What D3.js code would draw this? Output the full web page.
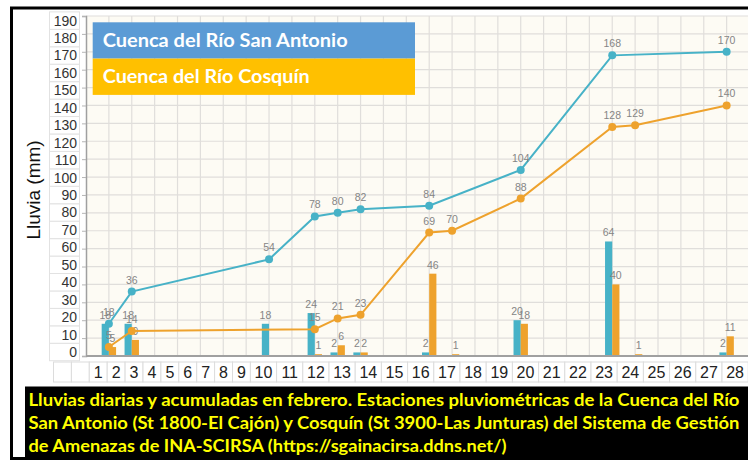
<!DOCTYPE html>
<html>
<head>
<meta charset="utf-8">
<script src="https://cdn.jsdelivr.net/npm/d3@7"></script>
<style>
  html, body { margin: 0; padding: 0; background: #fff; }
  svg { display: block; }
</style>
</head>
<body>
<div id="chart"></div>
<script>
// columns of the underlying chart grid where rain was recorded
const cols = [1, 2, 8, 10, 11, 12, 15, 16, 19, 23, 24, 28];
const sanAntonioDaily = [18, 18, 18, 24, 2, 2, 2, 0, 20, 64, 0, 2];
const cosquinDaily = [5, 9, 0, 1, 6, 2, 46, 1, 18, 40, 1, 11];
const sanAntonioAcum = [18, 36, 54, 78, 80, 82, 84, null, 104, 168, null, 170];
const cosquinAcum = [5, 14, null, 15, 21, 23, 69, 70, 88, 128, 129, 140];

// pasted label row under the chart
const dayLabels = ["", "", 1, 2, 3, 4, 5, 6, 7, 8, 9, 10, 11, 12, 13, 14, 15, 16, 17, 18, 19, 20, 21, 22, 23, 24, 25, 26, 27, 28];
const yTicks = d3.range(0, 191, 10);

const legendLabels = ["Cuenca del Río San Antonio", "Cuenca del Río Cosquín"];
const captionLines = [
  "Lluvias diarias y acumuladas en febrero. Estaciones pluviométricas de la Cuenca del Río",
  "San Antonio (St 1800-El Cajón) y Cosquín (St 3900-Las Junturas) del Sistema de Gestión",
  "de Amenazas de INA-SCIRSA (https://sgainacirsa.ddns.net/)"
];

function draw() {
  const width = 748, height = 462;
  const blue = "#47b2c7", orange = "#eea22d";

  const svg = d3.select("#chart").append("svg")
    .attr("width", width)
    .attr("height", height);

  // outer frame
  svg.append("rect").attr("x", 0).attr("y", 0).attr("width", width).attr("height", height).attr("fill", "#fff");
  svg.append("path")
    .attr("d", `M${width},8 H11.5 V458.5 H${width}`)
    .attr("fill", "none").attr("stroke", "#000").attr("stroke-width", 3);

  // scales of the plot
  const plot = { left: 86, right: width, top: 16, bottom: 356 };
  const x = d3.scaleLinear().domain([0, 29]).range([plot.left, plot.left + 29 * 22.88]);
  const y = d3.scaleLinear().domain([0, 190]).range([plot.bottom, plot.top]);
  // the y label table is slightly offset from the plot grid
  const yLab = d3.scaleLinear().domain([0, 190]).range([352, 20.6]);

  svg.append("clipPath").attr("id", "clip")
    .append("rect").attr("x", plot.left).attr("y", plot.top - 6)
    .attr("width", plot.right - plot.left).attr("height", plot.bottom - plot.top + 6);

  svg.append("rect")
    .attr("x", plot.left).attr("y", plot.top)
    .attr("width", plot.right - plot.left).attr("height", plot.bottom - plot.top)
    .attr("fill", "#fdfbf4");

  const g = svg.append("g").attr("clip-path", "url(#clip)");

  // grid
  g.append("g").selectAll("line").data(d3.range(0, 30))
    .join("line")
    .attr("x1", d => x(d)).attr("x2", d => x(d))
    .attr("y1", plot.top).attr("y2", plot.bottom)
    .attr("stroke", "#e0dedb").attr("stroke-width", 1.2);
  g.append("g").selectAll("line").data(yTicks)
    .join("line")
    .attr("x1", plot.left).attr("x2", plot.right)
    .attr("y1", d => y(d)).attr("y2", d => y(d))
    .attr("stroke", "#e0dedb").attr("stroke-width", 1.2);

  // y axis ticks (labels live in the table on the left)
  const yAxis = svg.append("g")
    .attr("transform", `translate(${plot.left},0)`)
    .call(d3.axisLeft(y).tickValues(yTicks).tickSize(4).tickFormat(""));
  yAxis.selectAll("line").attr("stroke", "#b5b5b5");
  yAxis.select(".domain").attr("stroke", "#a0a0a0").attr("stroke-width", 1.5);

  svg.append("line")
    .attr("x1", plot.left).attr("x2", plot.right)
    .attr("y1", plot.bottom).attr("y2", plot.bottom)
    .attr("stroke", "#a0a0a0").attr("stroke-width", 2);

  // y label table
  const cell = 17.42;
  const yl = svg.append("g");
  yl.selectAll("rect").data(yTicks).join("rect")
    .attr("x", 49.5).attr("y", d => yLab(d) - cell / 2)
    .attr("width", 30).attr("height", cell)
    .attr("fill", "#fff").attr("stroke", "#e2e2e2");
  yl.selectAll("text").data(yTicks).join("text")
    .attr("x", 77).attr("y", d => yLab(d) + 5)
    .attr("text-anchor", "end")
    .attr("font-family", "Liberation Sans, Arial, sans-serif")
    .attr("font-size", 14)
    .attr("fill", "#333")
    .text(d => d);

  // y title
  svg.append("text")
    .attr("transform", "translate(40,190) rotate(-90)")
    .attr("text-anchor", "middle")
    .attr("font-family", "Liberation Sans, Arial, sans-serif")
    .attr("font-size", 19)
    .attr("fill", "#111")
    .text("Lluvia (mm)");

  // bars
  const barW = 7.2;
  const rows = cols.map((c, i) => ({ c, sa: sanAntonioDaily[i], co: cosquinDaily[i], saA: sanAntonioAcum[i], coA: cosquinAcum[i] }));

  g.append("g").selectAll("rect").data(rows.filter(d => d.sa > 0)).join("rect")
    .attr("x", d => x(d.c) - barW).attr("y", d => y(d.sa))
    .attr("width", barW).attr("height", d => y(0) - y(d.sa))
    .attr("fill", blue);
  g.append("g").selectAll("rect").data(rows.filter(d => d.co > 0)).join("rect")
    .attr("x", d => x(d.c)).attr("y", d => y(d.co))
    .attr("width", barW).attr("height", d => y(0) - y(d.co))
    .attr("fill", orange);

  const labelFont = "Liberation Sans, Arial, sans-serif";
  const labelColor = "#858585";

  g.append("g").selectAll("text").data(rows.filter(d => d.sa > 0)).join("text")
    .attr("x", d => x(d.c) - barW / 2).attr("y", d => y(d.sa) - 5)
    .attr("text-anchor", "middle").attr("font-family", labelFont).attr("font-size", 10.5)
    .attr("fill", labelColor).text(d => d.sa);
  g.append("g").selectAll("text").data(rows.filter(d => d.co > 0)).join("text")
    .attr("x", d => x(d.c) + barW / 2).attr("y", d => y(d.co) - 5)
    .attr("text-anchor", "middle").attr("font-family", labelFont).attr("font-size", 10.5)
    .attr("fill", labelColor).text(d => d.co);

  // accumulated lines
  const series = [
    { key: "saA", color: blue },
    { key: "coA", color: orange }
  ];
  const line = d3.line().x(d => x(d.c));
  series.forEach(s => {
    const pts = rows.filter(d => d[s.key] != null);
    g.append("path").datum(pts)
      .attr("d", line.y(d => y(d[s.key])))
      .attr("fill", "none").attr("stroke", s.color).attr("stroke-width", 2);
    g.append("g").selectAll("circle").data(pts).join("circle")
      .attr("cx", d => x(d.c)).attr("cy", d => y(d[s.key])).attr("r", 4)
      .attr("fill", s.color);
    g.append("g").selectAll("text").data(pts).join("text")
      .attr("x", d => x(d.c)).attr("y", d => y(d[s.key]) - 8)
      .attr("text-anchor", "middle").attr("font-family", labelFont).attr("font-size", 10.5)
      .attr("fill", labelColor).text(d => d[s.key]);
  });

  // legend
  const legend = svg.append("g");
  const legColors = ["#5b9bd5", "#ffc000"];
  const legWidths = [245, 207];
  legend.selectAll("rect").data(legendLabels).join("rect")
    .attr("x", 92.7).attr("y", (d, i) => 22.3 + i * 36.3)
    .attr("width", 322.3).attr("height", 36.3)
    .attr("fill", (d, i) => legColors[i]);
  legend.selectAll("text").data(legendLabels).join("text")
    .attr("x", 102.7).attr("y", (d, i) => 46.8 + i * 36.5)
    .attr("font-family", "Lato, Open Sans, sans-serif").attr("font-weight", 700)
    .attr("font-size", 19).attr("fill", "#fff")
    .attr("textLength", (d, i) => legWidths[i]).attr("lengthAdjust", "spacingAndGlyphs")
    .text(d => d);

  // pasted day label strip
  const cellW = d => String(d).length === 2 ? 26.2 : 17.9;
  let cx = 53.5;
  const strip = dayLabels.map(d => { const o = { d, x: cx, w: cellW(d) }; cx += o.w; return o; });
  const st = svg.append("g");
  st.selectAll("rect").data(strip).join("rect")
    .attr("x", d => d.x).attr("y", 362).attr("width", d => d.w).attr("height", 20)
    .attr("fill", "#fff").attr("stroke", "#dcdcdc");
  st.selectAll("text").data(strip).join("text")
    .attr("x", d => d.x + d.w / 2).attr("y", 378)
    .attr("text-anchor", "middle")
    .attr("font-family", "Liberation Sans, Arial, sans-serif").attr("font-size", 16)
    .attr("fill", "#222")
    .text(d => d.d);

  // caption box
  svg.append("rect")
    .attr("x", 25).attr("y", 386.5).attr("width", width - 25).attr("height", 72)
    .attr("fill", "#000");
  const capWidths = [711, 711, 478];
  svg.append("g").selectAll("text").data(captionLines).join("text")
    .attr("x", 28.5).attr("y", (d, i) => 406 + i * 23)
    .attr("font-family", "Lato, Open Sans, sans-serif").attr("font-weight", 700)
    .attr("font-size", 16.5).attr("fill", "#ffff00")
    .attr("textLength", (d, i) => capWidths[i]).attr("lengthAdjust", "spacingAndGlyphs")
    .text(d => d);
}

window.onload = draw;
</script>
</body>
</html>
